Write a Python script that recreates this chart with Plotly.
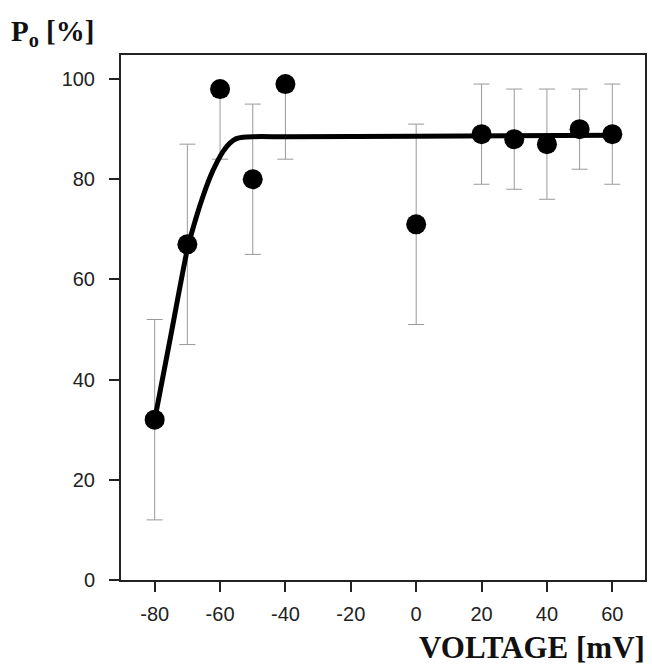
import plotly.graph_objects as go

# Measured open probability data
voltage = [-80, -70, -60, -50, -40, 0, 20, 30, 40, 50, 60]
po = [32, 67, 98, 80, 99, 71, 89, 88, 87, 90, 89]
err_plus = [20, 20, 0, 15, 0, 20, 10, 10, 11, 8, 10]
err_minus = [20, 20, 14, 15, 15, 20, 10, 10, 11, 8, 10]

# Fitted curve
fit_v = [-80, -75, -70, -67, -65, -63, -61, -59, -57, -55, -53, -50, -40, 0, 60]
fit_po = [32, 49, 66, 73, 77, 80.5, 83.3, 85.6, 87.2, 88.1, 88.4, 88.5, 88.5, 88.6, 88.8]

x_ticks = [-80, -60, -40, -20, 0, 20, 40, 60]
x_ticktext = ["-80", "-60", "-40", "-20", "0", "20", "40", "60"]
y_ticks = [0, 20, 40, 60, 80, 100]
y_ticktext = ["0", "20", "40", "60", "80", "100"]

fig = go.Figure()

fig.add_trace(go.Scatter(
    x=voltage, y=po, mode="markers",
    marker=dict(color="black", size=20),
    error_y=dict(type="data", symmetric=False, array=err_plus, arrayminus=err_minus,
                 color="#999999", thickness=1, width=8),
    showlegend=False,
))

fig.add_trace(go.Scatter(
    x=fit_v, y=fit_po, mode="lines",
    line=dict(color="black", width=5, shape="spline", smoothing=0.6),
    showlegend=False,
))

axis_common = dict(
    showgrid=False, zeroline=False, showline=True, linecolor="#222", linewidth=2,
    mirror=True, ticks="outside", ticklen=10, tickwidth=2, tickcolor="#222",
    tickfont=dict(family="Liberation Sans, Arial", size=20, color="#222"),
)

fig.update_xaxes(range=[-90.3, 70], tickvals=x_ticks, ticktext=x_ticktext,
                 ticklabelstandoff=5, **axis_common)
fig.update_yaxes(range=[0, 104.8], tickvals=y_ticks, ticktext=y_ticktext,
                 ticklabelstandoff=10, **axis_common)

fig.add_annotation(
    text="<b>P<sub>o</sub> [%]</b>", xref="paper", yref="paper",
    x=-0.213, y=1.0, xanchor="left", yanchor="bottom", yshift=2, showarrow=False,
    font=dict(family="Liberation Serif, Times New Roman", size=29, color="#111"),
)
fig.add_annotation(
    text="<b>VOLTAGE [mV]</b>", xref="paper", yref="paper",
    x=1.0, y=0, xanchor="right", yanchor="top", yshift=-48, xshift=2, showarrow=False,
    font=dict(family="Liberation Serif, Times New Roman", size=31, color="#111"),
)

fig.update_layout(
    width=652, height=670,
    margin=dict(l=121, r=5, t=55, b=90),
    plot_bgcolor="white", paper_bgcolor="white",
)

fig.write_html("out.html")
